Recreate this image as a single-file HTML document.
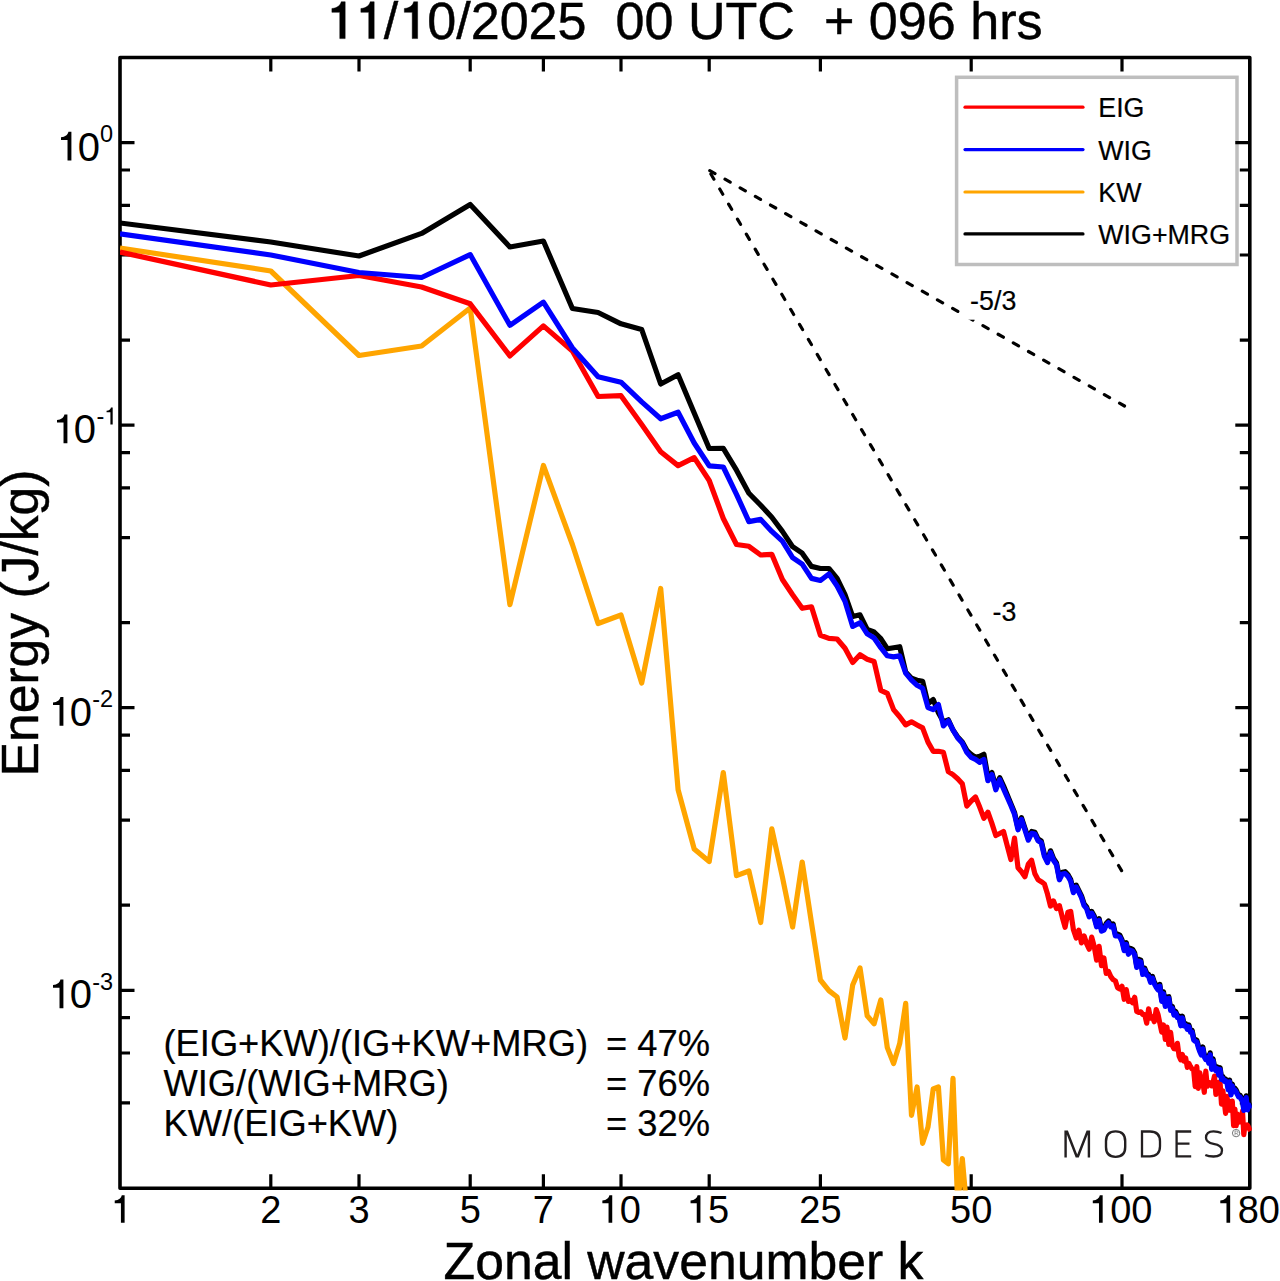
<!DOCTYPE html>
<html><head><meta charset="utf-8"><style>
html,body{margin:0;padding:0;background:#fff;}
body{width:1280px;height:1281px;overflow:hidden;}
svg{display:block;font-family:"Liberation Sans",sans-serif;font-kerning:none;}
text{stroke:#000;stroke-width:0.2px;}
.big{stroke-width:0.45px;}
.tick{stroke-width:0;}
.h1{fill:none;stroke:none;}

</style></head><body>
<svg width="1280" height="1281" viewBox="0 0 1280 1281">
<rect width="1280" height="1281" fill="#fff"/>
<defs><clipPath id="pc"><rect x="120" y="57.5" width="1131.8" height="1133.0"/></clipPath></defs>
<text class="big" x="684.2" y="38.6" font-size="52.1" text-anchor="middle" xml:space="preserve"><tspan class="h1">1</tspan><tspan class="h1">1</tspan>/<tspan class="h1">1</tspan>0/2025  00 UTC  + 096 hrs</text>
<rect x="956.6" y="77.3" width="280.4" height="187.2" fill="#fff" stroke="#bebebe" stroke-width="3.5"/>
<g stroke-width="3.2" stroke-linecap="round">
<path d="M965 107.2H1083" stroke="#f00"/>
<path d="M965 149.6H1083" stroke="#00f"/>
<path d="M965 192H1083" stroke="#ffa500"/>
<path d="M965 233.9H1083" stroke="#000"/>
</g>
<path d="M270.8 1188.2V1174.2M270.8 57.5V71.5M359.0 1188.2V1174.2M359.0 57.5V71.5M470.2 1188.2V1174.2M470.2 57.5V71.5M543.4 1188.2V1174.2M543.4 57.5V71.5M621.0 1188.2V1174.2M621.0 57.5V71.5M709.2 1188.2V1174.2M709.2 57.5V71.5M820.4 1188.2V1174.2M820.4 57.5V71.5M971.2 1188.2V1174.2M971.2 57.5V71.5M1122.0 1188.2V1174.2M1122.0 57.5V71.5M120.0 142.6H134.5M1249.8 142.6H1235.3M120.0 425.2H134.5M1249.8 425.2H1235.3M120.0 707.7H134.5M1249.8 707.7H1235.3M120.0 990.3H134.5M1249.8 990.3H1235.3M120.0 340.1H130.0M1249.8 340.1H1239.8M120.0 255.0H130.0M1249.8 255.0H1239.8M120.0 205.3H130.0M1249.8 205.3H1239.8M120.0 170.0H130.0M1249.8 170.0H1239.8M120.0 622.7H130.0M1249.8 622.7H1239.8M120.0 537.6H130.0M1249.8 537.6H1239.8M120.0 487.9H130.0M1249.8 487.9H1239.8M120.0 452.6H130.0M1249.8 452.6H1239.8M120.0 905.2H130.0M1249.8 905.2H1239.8M120.0 820.2H130.0M1249.8 820.2H1239.8M120.0 770.4H130.0M1249.8 770.4H1239.8M120.0 735.1H130.0M1249.8 735.1H1239.8M120.0 1102.8H130.0M1249.8 1102.8H1239.8M120.0 1053.0H130.0M1249.8 1053.0H1239.8M120.0 1017.7H130.0M1249.8 1017.7H1239.8" stroke="#000" stroke-width="3.2" fill="none"/>
<rect x="120" y="57.5" width="1129.8" height="1130.7" fill="none" stroke="#000" stroke-width="3.6" stroke-linejoin="round"/>
<g clip-path="url(#pc)" fill="none" stroke-width="5.2" stroke-linejoin="round">
<polyline stroke="#000" points="120.0,223.0 270.8,242.0 359.0,256.0 421.6,233.4 470.2,204.4 509.9,247.0 543.4,241.0 572.4,308.5 598.1,312.5 621.0,323.8 641.7,329.5 660.7,384.0 678.1,374.7 694.2,413.0 709.2,448.5 723.3,448.4 736.5,470.2 748.9,493.2 760.7,505.2 771.8,517.2 782.4,531.4 792.6,546.7 802.2,553.2 811.5,566.4 820.4,568.5 828.9,568.5 837.1,578.4 845.0,594.7 852.7,616.6 860.0,614.8 867.2,629.5 874.1,632.0 880.8,638.6 887.3,648.7 893.6,647.7 899.7,646.7 905.7,672.1 911.5,678.2 917.1,680.2 922.6,681.2 928.0,703.6 933.2,699.5 938.4,712.7 943.4,721.8 948.3,719.8 953.0,730.0 957.7,737.0 962.3,742.0 966.8,750.3 971.2,754.3 975.5,757.4 979.7,756.4 983.9,754.3 987.9,776.6 991.9,772.6 995.8,786.8 999.7,777.7 1003.5,785.8 1010.9,803.7 1014.5,812.4 1018.0,828.0 1021.5,817.7 1024.9,828.0 1028.3,838.4 1031.6,831.5 1034.9,832.3 1038.1,839.0 1041.3,841.0 1044.4,854.5 1047.5,860.8 1050.5,850.8 1053.5,858.5 1056.5,863.0 1059.4,878.0 1062.3,872.2 1065.1,871.7 1067.9,874.5 1070.7,879.5 1073.4,890.9 1076.2,885.2 1078.8,890.4 1081.5,895.9 1084.1,903.9 1086.6,906.9 1089.2,915.0 1091.7,911.4 1094.2,916.0 1096.6,925.0 1099.1,918.6 1101.5,929.3 1103.9,928.3 1106.2,923.5 1108.5,921.0 1110.8,925.1 1113.1,923.9 1115.4,934.2 1117.6,934.2 1119.8,935.2 1122.0,939.8 1124.2,948.8 1126.3,942.7 1128.4,952.5 1130.5,948.5 1132.6,949.4 1134.7,953.1 1136.7,965.6 1138.7,959.3 1140.8,960.2 1142.7,972.7 1144.7,968.2 1146.7,973.3 1148.6,974.4 1150.5,980.5 1152.4,976.4 1154.3,982.0 1156.2,985.4 1158.0,988.1 1159.8,984.4 1161.7,999.5 1163.5,991.9 1165.3,1004.7 1167.0,997.0 1168.8,996.7 1170.6,1008.5 1172.3,1006.5 1174.0,1013.2 1175.7,1011.5 1177.4,1015.8 1179.1,1016.0 1180.8,1024.0 1182.4,1016.2 1184.0,1024.1 1185.7,1023.6 1187.3,1027.6 1188.9,1025.0 1190.5,1030.4 1192.1,1030.3 1193.7,1038.2 1195.2,1039.5 1196.8,1040.1 1198.3,1045.5 1199.8,1049.9 1201.3,1053.2 1202.8,1047.0 1204.3,1055.2 1205.8,1057.8 1207.3,1056.3 1208.8,1061.4 1210.2,1052.9 1211.7,1067.5 1213.1,1058.9 1214.5,1066.4 1215.9,1069.0 1217.4,1067.0 1218.8,1073.3 1220.1,1067.7 1221.5,1077.6 1222.9,1076.8 1224.3,1079.5 1225.6,1079.1 1227.0,1081.5 1228.3,1088.1 1229.6,1080.1 1231.0,1093.2 1232.3,1084.0 1233.6,1089.8 1234.9,1088.2 1236.2,1090.0 1237.5,1092.8 1238.7,1095.2 1240.0,1095.1 1241.3,1097.9 1242.5,1098.8 1243.8,1108.5 1245.0,1099.7 1246.2,1095.8 1247.5,1108.0 1248.7,1103.0 1250.5,1106.9"/>
<polyline stroke="#ffa500" points="120.0,248.0 270.8,271.0 359.0,355.5 421.6,346.0 470.2,308.0 509.9,604.6 543.4,465.5 572.4,544.5 598.1,623.5 621.0,615.0 641.7,683.0 660.7,588.5 678.1,789.7 694.2,849.0 709.2,861.6 723.3,772.5 736.5,875.6 748.9,871.0 760.7,922.5 771.8,828.8 782.4,877.0 792.6,927.0 802.2,862.0 811.5,923.0 820.4,980.0 828.9,990.6 837.1,997.0 845.0,1038.0 852.7,985.0 860.0,968.0 867.2,1015.8 874.1,1023.7 880.8,999.9 887.3,1047.6 893.6,1063.5 899.7,1043.6 905.7,1003.3 911.5,1115.3 917.1,1087.0 922.6,1143.3 928.0,1127.0 933.2,1089.0 938.4,1087.0 943.4,1160.0 948.3,1163.8 953.0,1078.4 957.7,1205.0 962.3,1158.5 966.8,1210.0 971.2,1230.0"/>
<polyline stroke="#f00" points="120.0,252.0 270.8,285.0 359.0,275.5 421.6,287.0 470.2,303.8 509.9,355.9 543.4,325.9 572.4,351.0 598.1,396.5 621.0,395.7 641.7,424.4 660.7,451.7 678.1,465.6 694.2,457.6 709.2,480.5 723.3,518.5 736.5,544.5 748.9,546.3 760.7,555.0 771.8,554.3 782.4,579.5 792.6,594.7 802.2,608.3 811.5,606.8 820.4,635.2 828.9,638.4 837.1,639.0 845.0,648.3 852.7,662.5 860.0,654.8 867.2,659.2 874.1,661.5 880.8,690.4 887.3,693.4 893.6,709.6 899.7,716.8 905.7,724.9 911.5,721.8 917.1,724.9 922.6,727.9 928.0,742.1 933.2,751.3 938.4,751.3 943.4,752.3 948.3,771.6 953.0,774.6 957.7,778.7 962.3,783.8 966.8,806.1 971.2,801.0 975.5,797.0 979.7,807.1 983.9,818.3 987.9,812.2 991.9,823.4 995.8,835.5 999.7,833.5 1003.5,831.5 1010.9,859.6 1014.5,838.1 1018.0,867.7 1021.5,871.7 1024.9,876.7 1028.3,864.2 1031.6,860.3 1034.9,873.8 1038.1,879.8 1041.3,881.7 1044.4,884.0 1047.5,894.1 1050.5,906.1 1053.5,900.9 1056.5,908.6 1059.4,905.7 1062.3,917.2 1065.1,927.3 1067.9,912.3 1070.7,911.4 1073.4,929.7 1076.2,938.0 1078.8,930.1 1081.5,942.9 1084.1,935.9 1086.6,943.6 1089.2,949.2 1091.7,937.1 1094.2,946.4 1096.6,960.1 1099.1,946.3 1101.5,965.7 1103.9,958.0 1106.2,973.4 1108.5,971.5 1110.8,976.6 1113.1,979.6 1115.4,980.9 1117.6,987.8 1119.8,989.1 1122.0,986.2 1124.2,999.3 1126.3,989.6 1128.4,1001.4 1130.5,1000.3 1132.6,1002.7 1134.7,997.3 1136.7,1011.5 1138.7,1012.5 1140.8,1011.8 1142.7,1014.4 1144.7,1014.5 1146.7,1023.1 1148.6,1008.8 1150.5,1018.2 1152.4,1016.9 1154.3,1021.7 1156.2,1009.5 1158.0,1014.3 1159.8,1023.0 1161.7,1032.0 1163.5,1025.0 1165.3,1039.4 1167.0,1027.2 1168.8,1044.4 1170.6,1032.4 1172.3,1045.6 1174.0,1048.7 1175.7,1048.9 1177.4,1043.3 1179.1,1056.1 1180.8,1059.9 1182.4,1054.5 1184.0,1061.1 1185.7,1058.1 1187.3,1067.4 1188.9,1063.3 1190.5,1066.6 1192.1,1068.9 1193.7,1070.4 1195.2,1086.6 1196.8,1066.7 1198.3,1088.3 1199.8,1072.9 1201.3,1079.4 1202.8,1081.8 1204.3,1092.3 1205.8,1071.2 1207.3,1086.2 1208.8,1082.5 1210.2,1082.8 1211.7,1085.9 1213.1,1082.4 1214.5,1076.1 1215.9,1094.5 1217.4,1084.5 1218.8,1082.3 1220.1,1082.8 1221.5,1104.1 1222.9,1090.9 1224.3,1102.3 1225.6,1113.3 1227.0,1096.3 1228.3,1110.1 1229.6,1101.2 1231.0,1110.5 1232.3,1101.1 1233.6,1125.7 1234.9,1109.0 1236.2,1125.7 1237.5,1114.1 1238.7,1122.2 1240.0,1118.4 1241.3,1121.9 1242.5,1111.2 1243.8,1134.6 1245.0,1124.8 1246.2,1127.2 1247.5,1125.1 1248.7,1127.6 1250.5,1131.0"/>
<polyline stroke="#00f" points="120.0,233.8 270.8,255.0 359.0,272.5 421.6,277.5 470.2,254.6 509.9,325.3 543.4,302.2 572.4,348.0 598.1,376.8 621.0,382.2 641.7,401.9 660.7,418.8 678.1,412.2 694.2,443.0 709.2,465.8 723.3,467.0 736.5,494.3 748.9,521.6 760.7,519.4 771.8,531.4 782.4,541.2 792.6,557.6 802.2,564.2 811.5,578.4 820.4,580.5 828.9,574.0 837.1,586.0 845.0,601.3 852.7,626.4 860.0,622.7 867.2,633.8 874.1,638.0 880.8,647.7 887.3,655.8 893.6,656.9 899.7,655.8 905.7,673.1 911.5,680.2 917.1,685.3 922.6,688.3 928.0,707.6 933.2,709.6 938.4,704.6 943.4,725.9 948.3,720.8 953.0,730.0 957.7,738.0 962.3,743.1 966.8,752.3 971.2,757.4 975.5,759.4 979.7,762.4 983.9,759.4 987.9,780.7 991.9,774.6 995.8,789.8 999.7,779.7 1003.5,788.8 1010.9,805.5 1014.5,814.2 1018.0,829.8 1021.5,819.5 1024.9,829.8 1028.3,840.2 1031.6,833.3 1034.9,834.1 1038.1,840.8 1041.3,842.8 1044.4,856.3 1047.5,862.6 1050.5,852.6 1053.5,860.3 1056.5,864.8 1059.4,879.8 1062.3,874.0 1065.1,873.5 1067.9,876.3 1070.7,881.3 1073.4,892.7 1076.2,887.0 1078.8,892.2 1081.5,897.7 1084.1,905.7 1086.6,908.7 1089.2,916.8 1091.7,913.2 1094.2,917.8 1096.6,926.8 1099.1,920.4 1101.5,931.1 1103.9,930.1 1106.2,925.3 1108.5,922.8 1110.8,926.9 1113.1,925.7 1115.4,936.0 1117.6,936.0 1119.8,937.0 1122.0,941.6 1124.2,950.6 1126.3,944.5 1128.4,954.3 1130.5,950.3 1132.6,951.2 1134.7,954.9 1136.7,967.4 1138.7,961.1 1140.8,962.0 1142.7,974.5 1144.7,970.0 1146.7,975.1 1148.6,976.2 1150.5,982.3 1152.4,978.2 1154.3,983.8 1156.2,987.2 1158.0,989.9 1159.8,986.2 1161.7,1001.3 1163.5,993.7 1165.3,1006.5 1167.0,998.8 1168.8,998.5 1170.6,1010.3 1172.3,1008.3 1174.0,1015.0 1175.7,1013.3 1177.4,1017.6 1179.1,1017.8 1180.8,1025.8 1182.4,1018.0 1184.0,1025.9 1185.7,1025.4 1187.3,1029.4 1188.9,1026.8 1190.5,1032.2 1192.1,1032.1 1193.7,1040.0 1195.2,1041.3 1196.8,1041.9 1198.3,1047.3 1199.8,1051.7 1201.3,1055.0 1202.8,1048.8 1204.3,1057.0 1205.8,1059.6 1207.3,1058.1 1208.8,1063.2 1210.2,1054.7 1211.7,1069.3 1213.1,1060.7 1214.5,1068.2 1215.9,1070.8 1217.4,1068.8 1218.8,1075.1 1220.1,1069.5 1221.5,1079.4 1222.9,1078.6 1224.3,1081.3 1225.6,1080.9 1227.0,1083.3 1228.3,1089.9 1229.6,1081.9 1231.0,1095.0 1232.3,1085.8 1233.6,1091.6 1234.9,1090.0 1236.2,1091.8 1237.5,1094.6 1238.7,1097.0 1240.0,1096.9 1241.3,1099.7 1242.5,1100.6 1243.8,1110.3 1245.0,1101.5 1246.2,1097.6 1247.5,1109.8 1248.7,1104.8 1250.5,1108.7"/>
</g>
<g fill="none" stroke="#000" stroke-width="3.2" stroke-linecap="round" stroke-dasharray="6.0 11.45">
<path d="M708.4 169.8L1124.5 406" stroke-dashoffset="15.85"/>
<path d="M708.4 169.8L1122.3 871.9" stroke-dashoffset="12.55"/>
</g>
<rect x="962" y="284" width="58" height="35.7" fill="#fff"/>
<rect x="988" y="598" width="30" height="27" fill="#fff"/>
<g font-size="26.8" text-anchor="end">
<text x="1016.3" y="310.4">-5/3</text>
<text x="1016.3" y="620.9">-3</text>
</g>

<g font-size="26.8">
<text x="1098.3" y="117">EIG</text>
<text x="1098.3" y="159.5">WIG</text>
<text x="1098.3" y="202">KW</text>
<text x="1098.3" y="244.2">WIG+MRG</text>
</g>
<g font-size="38"><text class="tick" x="121.5" y="1222.7" text-anchor="middle"><tspan class="h1">1</tspan></text><text class="tick" x="270.8" y="1222.7" text-anchor="middle">2</text><text class="tick" x="359.0" y="1222.7" text-anchor="middle">3</text><text class="tick" x="470.2" y="1222.7" text-anchor="middle">5</text><text class="tick" x="543.4" y="1222.7" text-anchor="middle">7</text><text class="tick" x="619.7" y="1222.7" text-anchor="middle"><tspan class="h1">1</tspan>0</text><text class="tick" x="707.9" y="1222.7" text-anchor="middle"><tspan class="h1">1</tspan>5</text><text class="tick" x="820.4" y="1222.7" text-anchor="middle">25</text><text class="tick" x="971.2" y="1222.7" text-anchor="middle">50</text><text class="tick" x="1120.7" y="1222.7" text-anchor="middle"><tspan class="h1">1</tspan>00</text><text class="tick" x="1248.2" y="1222.7" text-anchor="middle"><tspan class="h1">1</tspan>80</text></g>
<text class="tick" x="100.0" y="160.6" font-size="40" text-anchor="end"><tspan class="h1">1</tspan>0</text><text class="tick" x="100.0" y="141.8" font-size="23.5">0</text><text class="tick" x="96.0" y="443.2" font-size="40" text-anchor="end"><tspan class="h1">1</tspan>0</text><text class="tick" x="96.4" y="424.4" font-size="23.5">-<tspan class="h1">1</tspan></text><text class="tick" x="92.0" y="725.7" font-size="40" text-anchor="end"><tspan class="h1">1</tspan>0</text><text class="tick" x="92.3" y="706.9" font-size="23.5">-2</text><text class="tick" x="92.0" y="1008.3" font-size="40" text-anchor="end"><tspan class="h1">1</tspan>0</text><text class="tick" x="92.3" y="989.5" font-size="23.5">-3</text>
<g fill="#000" stroke="#000"><path vector-effect="non-scaling-stroke" stroke-width="0.45" transform="translate(325.80 38.60) scale(52.100)" d="M0.268 0H0.372V-0.707H0.296C0.282 -0.640 0.220 -0.585 0.117 -0.578V-0.504H0.268Z"/><path vector-effect="non-scaling-stroke" stroke-width="0.45" transform="translate(354.79 38.60) scale(52.100)" d="M0.268 0H0.372V-0.707H0.296C0.282 -0.640 0.220 -0.585 0.117 -0.578V-0.504H0.268Z"/><path vector-effect="non-scaling-stroke" stroke-width="0.45" transform="translate(398.25 38.60) scale(52.100)" d="M0.268 0H0.372V-0.707H0.296C0.282 -0.640 0.220 -0.585 0.117 -0.578V-0.504H0.268Z"/><path stroke="none" transform="translate(110.93 1222.70) scale(38.000)" d="M0.263 0H0.360V-0.72H0.286C0.272 -0.650 0.210 -0.590 0.100 -0.583V-0.515H0.263Z"/><path stroke="none" transform="translate(598.56 1222.70) scale(38.000)" d="M0.263 0H0.360V-0.72H0.286C0.272 -0.650 0.210 -0.590 0.100 -0.583V-0.515H0.263Z"/><path stroke="none" transform="translate(686.76 1222.70) scale(38.000)" d="M0.263 0H0.360V-0.72H0.286C0.272 -0.650 0.210 -0.590 0.100 -0.583V-0.515H0.263Z"/><path stroke="none" transform="translate(1088.99 1222.70) scale(38.000)" d="M0.263 0H0.360V-0.72H0.286C0.272 -0.650 0.210 -0.590 0.100 -0.583V-0.515H0.263Z"/><path stroke="none" transform="translate(1216.49 1222.70) scale(38.000)" d="M0.263 0H0.360V-0.72H0.286C0.272 -0.650 0.210 -0.590 0.100 -0.583V-0.515H0.263Z"/><path stroke="none" transform="translate(57.00 160.60) scale(40.000)" d="M0.263 0H0.360V-0.72H0.286C0.272 -0.650 0.210 -0.590 0.100 -0.583V-0.515H0.263Z"/><path stroke="none" transform="translate(53.00 443.20) scale(40.000)" d="M0.263 0H0.360V-0.72H0.286C0.272 -0.650 0.210 -0.590 0.100 -0.583V-0.515H0.263Z"/><path stroke="none" transform="translate(104.23 424.40) scale(23.500)" d="M0.263 0H0.360V-0.72H0.286C0.272 -0.650 0.210 -0.590 0.100 -0.583V-0.515H0.263Z"/><path stroke="none" transform="translate(49.00 725.70) scale(40.000)" d="M0.263 0H0.360V-0.72H0.286C0.272 -0.650 0.210 -0.590 0.100 -0.583V-0.515H0.263Z"/><path stroke="none" transform="translate(49.00 1008.30) scale(40.000)" d="M0.263 0H0.360V-0.72H0.286C0.272 -0.650 0.210 -0.590 0.100 -0.583V-0.515H0.263Z"/></g>
<text class="big" x="683.5" y="1279.2" font-size="51.7" text-anchor="middle">Zonal wavenumber k</text>
<text class="big" transform="translate(38.0 623.0) rotate(-90)" font-size="51.6" text-anchor="middle">Energy (J/kg)</text>
<g font-size="36.3">
<text x="163.5" y="1055.6">(EIG+KW)/(IG+KW+MRG)</text>
<text x="163.5" y="1095.8">WIG/(WIG+MRG)</text>
<text x="163.5" y="1135.9">KW/(EIG+KW)</text>
<text x="606" y="1055.6">= 47%</text>
<text x="606" y="1095.8">= 76%</text>
<text x="606" y="1135.9">= 32%</text>
</g>
<g fill="none" stroke="#231f20" stroke-width="2.3" stroke-linejoin="miter">
<path fill="#231f20" stroke="none" d="M1064.4 1157.6V1130.6H1067.9L1077.25 1154.6L1086.6 1130.6H1090.1V1157.6H1087.7V1134.6L1078.8 1157.6H1075.7L1066.8 1134.6V1157.6Z"/>
<path stroke-width="2.4" d="M1106 1141.2C1106 1134.8 1109.6 1131.4 1115.6 1131.4C1121.6 1131.4 1125.2 1134.8 1125.2 1141.2V1147.1C1125.2 1153.5 1121.6 1156.9 1115.6 1156.9C1109.6 1156.9 1106 1153.5 1106 1147.1Z"/>
<path d="M1142 1131.5H1150Q1160 1131.5 1160 1141.5V1146.3Q1160 1156.3 1150 1156.3H1142Z"/>
<path d="M1191.2 1131.5H1176.6V1156.3H1191.2M1176.6 1143.6H1189.5"/>
<path d="M1221.5 1133Q1218 1131.3 1213.5 1131.3Q1206 1131.3 1206 1137.8Q1206 1142.5 1213.5 1143.8Q1222 1145.3 1222 1150.2Q1222 1156.5 1213.5 1156.5Q1208.5 1156.5 1205.3 1155"/>
</g>
<circle cx="1236.1" cy="1133.1" r="3.7" fill="none" stroke="#777" stroke-width="1"/><path d="M1235 1135.3V1131H1236.6Q1238 1131 1238 1132.2Q1238 1133.4 1236.6 1133.4H1235M1236.6 1133.4L1237.9 1135.3" fill="none" stroke="#777" stroke-width="0.7"/>
</svg>
</body></html>
